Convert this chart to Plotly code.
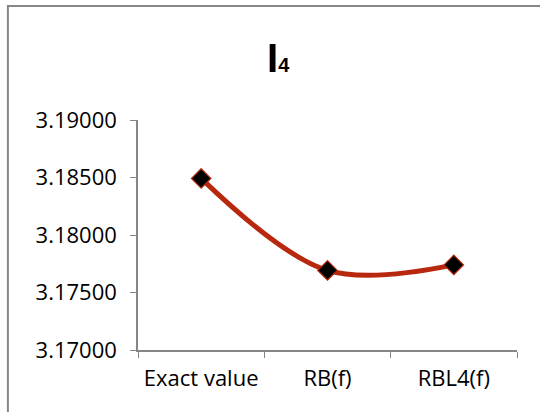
import plotly.graph_objects as go

categories = ["Exact value", "RB(f)", "RBL4(f)"]
values = [3.18492, 3.17692, 3.17740]
y_ticks = [3.17, 3.175, 3.18, 3.185, 3.19]

axis_col = "#868686"
font_fam = "'Open Sans', Lato, sans-serif"

fig = go.Figure()
fig.add_trace(go.Scatter(
    x=categories, y=values, mode="lines+markers",
    line=dict(color="#B8280E", width=5, shape="spline", smoothing=1.0),
    marker=dict(symbol="diamond", size=15, color="black",
                line=dict(color="#B8280E", width=1.2)),
    showlegend=False,
))

fig.update_layout(
    width=540, height=412,
    margin=dict(l=138, r=23, t=120, b=62),
    paper_bgcolor="white", plot_bgcolor="white",
    font=dict(family=font_fam, size=22, color="black"),
    xaxis=dict(
        type="category", tickson="boundaries", ticks="outside", ticklen=6,
        tickcolor=axis_col, showline=True, linecolor=axis_col, linewidth=1.5,
        showgrid=False, tickfont=dict(size=22), range=[-0.5, 2.5],
        ticklabelstandoff=8,
    ),
    yaxis=dict(
        range=[3.17, 3.19], tickvals=y_ticks, tickformat=".5f",
        ticks="outside", ticklen=6, tickcolor=axis_col,
        showline=True, linecolor=axis_col, linewidth=1.5,
        showgrid=False, zeroline=False, tickfont=dict(size=22),
        ticklabelstandoff=9,
    ),
    annotations=[dict(
        text="<b>I</b><span style='font-size:20px'><b>4</b></span>",
        x=(265 - 138) / 378.7, y=(350 - 58) / 230, xref="paper", yref="paper",
        showarrow=False, font=dict(size=40, family="'Liberation Sans', sans-serif"),
        xanchor="left", yanchor="middle",
    )],
    shapes=[dict(
        type="rect", xref="paper", yref="paper",
        x0=(8 - 138) / 378.7, x1=1.2, y0=-0.6, y1=(350 - 6) / 230,
        line=dict(color="#878787", width=2), fillcolor="rgba(0,0,0,0)", layer="below",
    )],
)

fig.write_html("out.html")
